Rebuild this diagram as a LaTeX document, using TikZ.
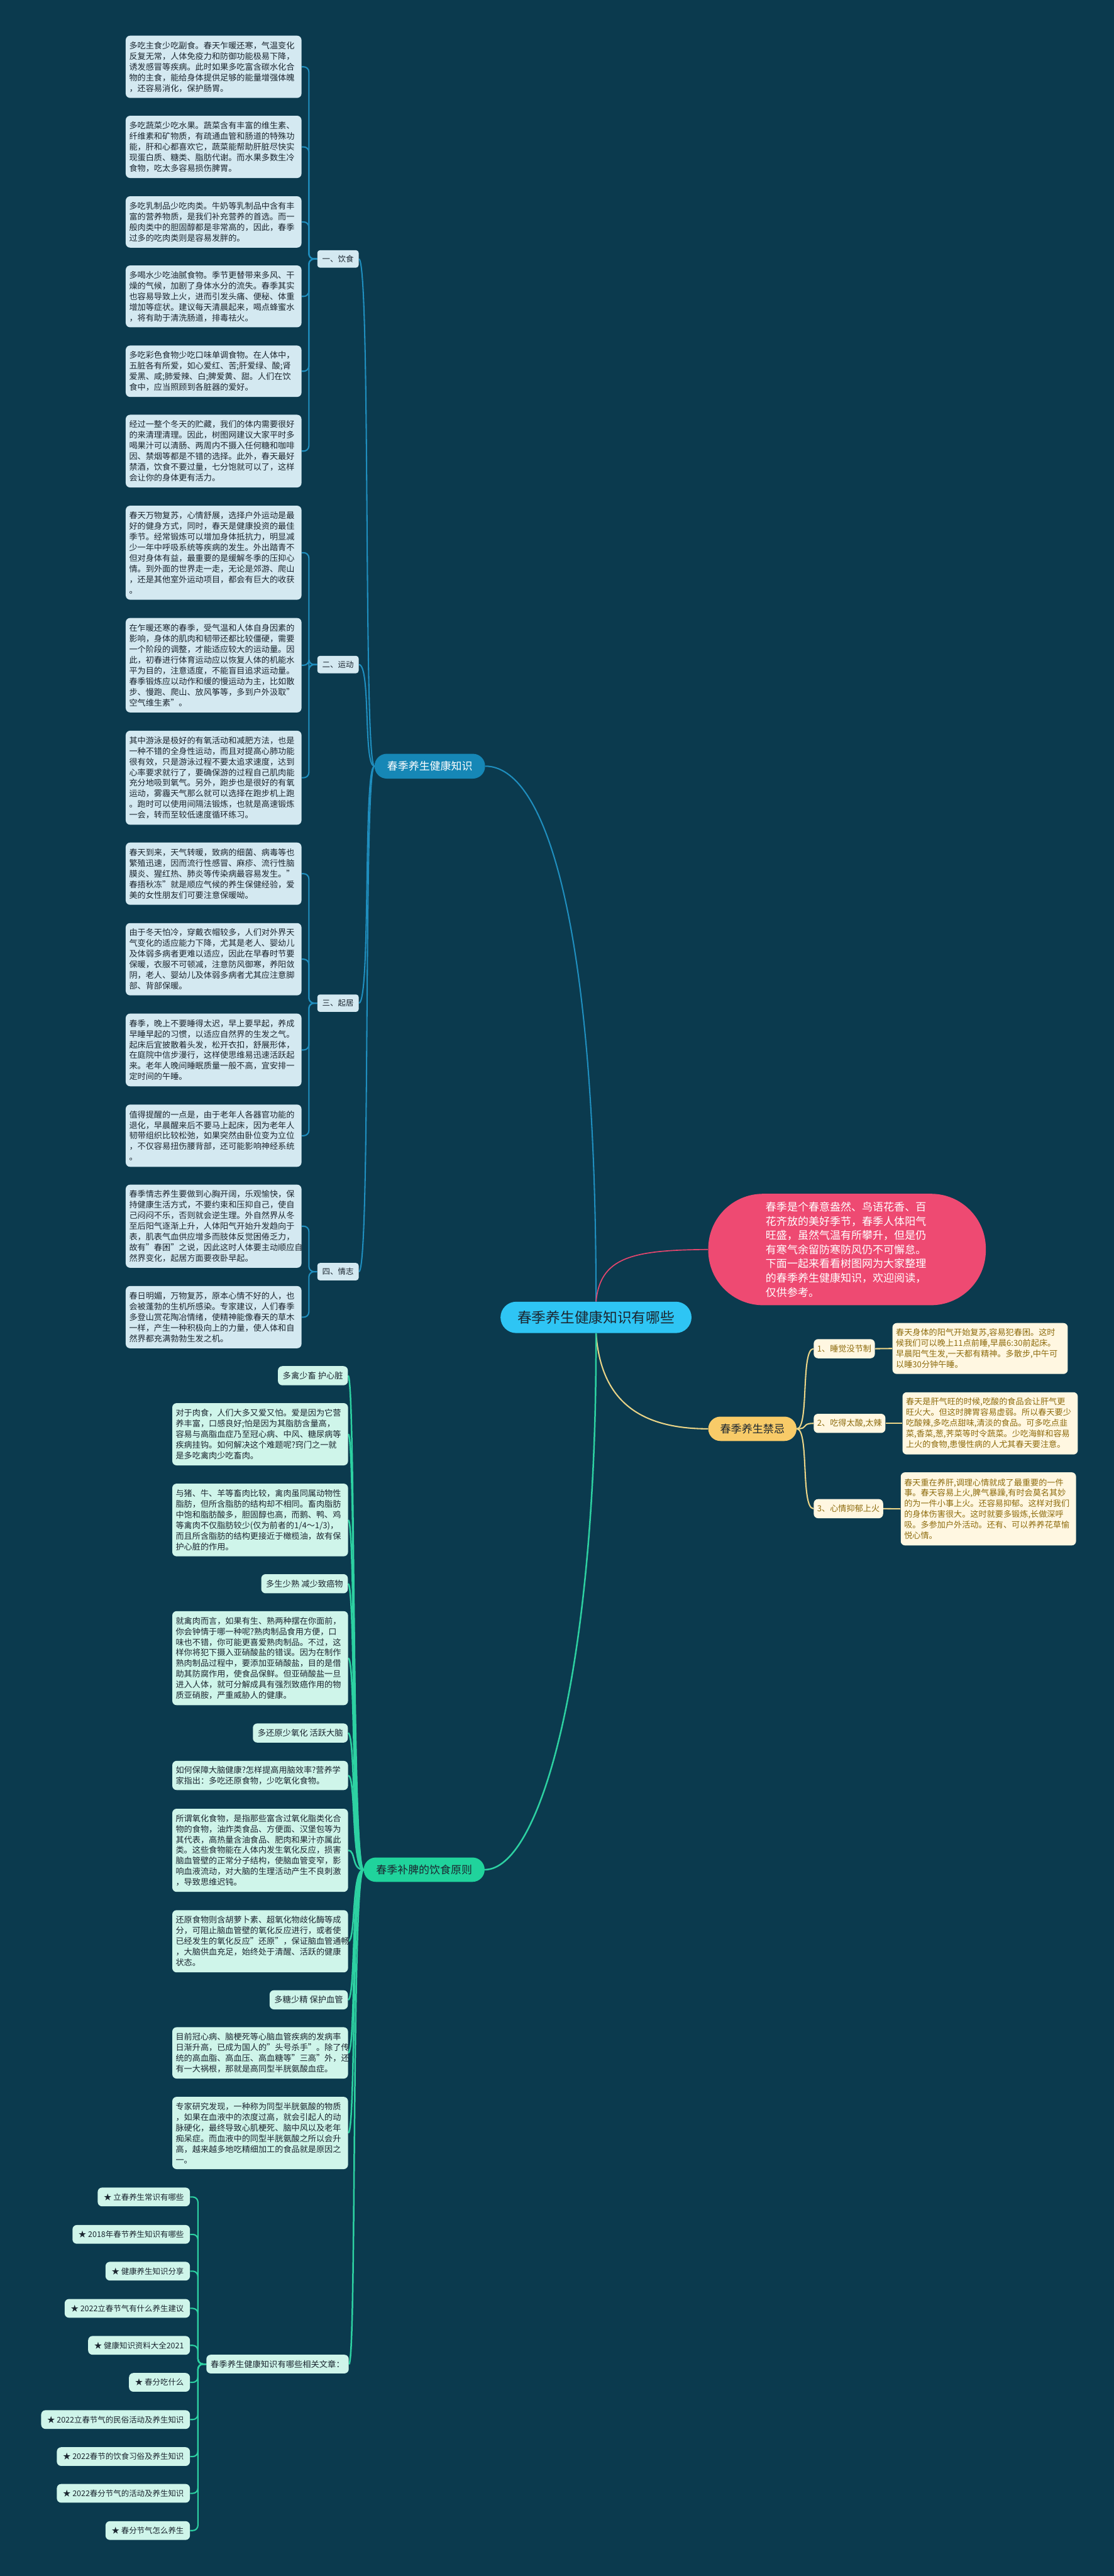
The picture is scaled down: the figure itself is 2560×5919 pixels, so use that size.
\documentclass[tikz,border=0pt]{standalone}
\usepackage{fontspec}
\setmainfont{Noto Sans CJK SC}
\usetikzlibrary{calc}
\lefthyphenmin=62
\definecolor{bgc}{HTML}{0B3A4E}
\definecolor{bluebox}{HTML}{D4E9F1}
\definecolor{blueline}{HTML}{1F8EBE}
\definecolor{bluenode}{HTML}{1687B6}
\definecolor{rootfill}{HTML}{2EC5F4}
\definecolor{darktext}{HTML}{1B2630}
\definecolor{mintbox}{HTML}{CFF5EA}
\definecolor{greenline}{HTML}{2DD1A2}
\definecolor{greennode}{HTML}{20D39C}
\definecolor{pinkfill}{HTML}{EE4A72}
\definecolor{pinkline}{HTML}{E6466E}
\definecolor{yellownode}{HTML}{F8CB68}
\definecolor{creambox}{HTML}{FFF7E1}
\definecolor{goldtext}{HTML}{8E6C0E}
\definecolor{yellowline}{HTML}{EAD487}
\pgfdeclarelayer{lines}
\pgfsetlayers{lines,main}
\tikzset{
  bbox/.style={fill=bluebox, text=darktext, font=\fontsize{9.5pt}{12.25pt}\selectfont, align=left, text width=194pt, inner xsep=4pt, inner ysep=2pt, rounded corners=5pt, minimum height=#1},
  gbox/.style={bbox=#1, fill=mintbox},
  ybox/.style={fill=creambox, text=goldtext, font=\fontsize{9.5pt}{12.2pt}\selectfont, align=left, text width=193.5pt, inner xsep=4pt, inner ysep=2pt, rounded corners=5pt, minimum height=#1, anchor=west},
  lab/.style={fill=bluebox, text=darktext, font=\fontsize{9pt}{10pt}\selectfont, rounded corners=3pt, inner xsep=5pt, inner ysep=0pt, minimum height=20pt, minimum width=47.5pt, anchor=west},
  glab/.style={fill=mintbox, text=darktext, font=\fontsize{9.6pt}{11pt}\selectfont, rounded corners=5pt, inner xsep=5.5pt, inner ysep=0pt, minimum height=22pt, anchor=east},
  ylab/.style={fill=creambox, text=goldtext, font=\fontsize{9.5pt}{11pt}\selectfont, rounded corners=5pt, inner xsep=4pt, inner ysep=0pt, minimum height=22pt, anchor=west},
  artitem/.style={fill=mintbox, text=darktext, font=\fontsize{9pt}{10pt}\selectfont, rounded corners=5pt, inner xsep=7pt, inner ysep=0pt, minimum height=21.5pt, anchor=east},
  cblue/.style={draw=blueline, line width=1.5pt},
  cgreen/.style={draw=greenline, line width=1.8pt},
  cyellow/.style={draw=yellowline, line width=1.5pt},
  cpink/.style={draw=pinkline, line width=1.2pt},
}
\begin{document}
\begin{tikzpicture}[x=0.5pt,y=-0.5pt]
\begin{pgfonlayer}{lines}
\fill[bgc] (0,0) rectangle (2560,5919);
\end{pgfonlayer}
\useasboundingbox (0,0) rectangle (2560,5919);

% ---------- root and main branches ----------
\node[fill=rootfill, text=darktext, font=\fontsize{16.4pt}{18pt}\selectfont, rounded corners=18pt, minimum width=219.5pt, minimum height=36pt, inner sep=0pt] (root) at (1370,3027) {春季养生健康知识有哪些};
\node[fill=bluenode, text=white, font=\fontsize{12.25pt}{14pt}\selectfont, rounded corners=14pt, minimum width=127pt, minimum height=28.5pt, inner sep=0pt] (kn) at (988,1760.5) {春季养生健康知识};
\node[fill=pinkfill, text=white, font=\fontsize{12.3pt}{16.35pt}\selectfont, rounded corners=63pt, minimum width=319pt, minimum height=128pt, text width=187pt, align=left, inner sep=0pt] (pink) at (1947,2871) {春季是个春意盎然、鸟语花香、百\\花齐放的美好季节，春季人体阳气\\旺盛，虽然气温有所攀升，但是仍\\有寒气余留防寒防风仍不可懈怠。\\下面一起来看看树图网为大家整理\\的春季养生健康知识，欢迎阅读，\\仅供参考。};
\node[fill=yellownode, text=darktext, font=\fontsize{12.35pt}{14pt}\selectfont, rounded corners=14pt, minimum width=101.5pt, minimum height=28pt, inner sep=0pt] (jn) at (1729.5,3283) {春季养生禁忌};
\node[fill=greennode, text=darktext, font=\fontsize{12.25pt}{14pt}\selectfont, rounded corners=14pt, minimum width=139pt, minimum height=28pt, inner sep=0pt] (gn) at (975,4296) {春季补脾的饮食原则};
\node[fill=mintbox, text=darktext, font=\fontsize{9.6pt}{11pt}\selectfont, rounded corners=5pt, inner xsep=5pt, inner ysep=0pt, minimum height=21.5pt, anchor=west] (rel) at (474,5432) {春季养生健康知识有哪些相关文章：};

% ---------- branch 1 labels ----------
\node[lab] (l1) at (729,595) {一、饮食};
\node[lab] (l2) at (729,1527) {二、运动};
\node[lab] (l3) at (729,2305) {三、起居};
\node[lab] (l4) at (729,2922) {四、情志};

% ---------- branch 1 boxes ----------
\node[bbox=71.5pt] (b1) at (491,153.5) {多吃主食少吃副食。春天乍暖还寒，气温变化\\反复无常，人体免疫力和防御功能极易下降，\\诱发感冒等疾病。此时如果多吃富含碳水化合\\物的主食，能给身体提供足够的能量增强体魄\\，还容易消化，保护肠胃。};
\node[bbox=71.5pt] (b2) at (491,337.5) {多吃蔬菜少吃水果。蔬菜含有丰富的维生素、\\纤维素和矿物质，有疏通血管和肠道的特殊功\\能，肝和心都喜欢它，蔬菜能帮助肝脏尽快实\\现蛋白质、糖类、脂肪代谢。而水果多数生冷\\食物，吃太多容易损伤脾胃。};
\node[bbox=59pt] (b3) at (491,510) {多吃乳制品少吃肉类。牛奶等乳制品中含有丰\\富的营养物质，是我们补充营养的首选。而一\\般肉类中的胆固醇都是非常高的，因此，春季\\过多的吃肉类则是容易发胖的。};
\node[bbox=71pt] (b4) at (491,681) {多喝水少吃油腻食物。季节更替带来多风、干\\燥的气候，加剧了身体水分的流失。春季其实\\也容易导致上火，进而引发头痛、便秘、体重\\增加等症状。建议每天清晨起来，喝点蜂蜜水\\，将有助于清洗肠道，排毒祛火。};
\node[bbox=59pt] (b5) at (491,853) {多吃彩色食物少吃口味单调食物。在人体中，\\五脏各有所爱，如心爱红、苦;肝爱绿、酸;肾\\爱黑、咸;肺爱辣、白;脾爱黄、甜。人们在饮\\食中，应当照顾到各脏器的爱好。};
\node[bbox=83.5pt] (b6) at (491,1036.5) {经过一整个冬天的贮藏，我们的体内需要很好\\的来清理清理。因此，树图网建议大家平时多\\喝果汁可以清肠、两周内不摄入任何糖和咖啡\\因、禁烟等都是不错的选择。此外，春天最好\\禁酒，饮食不要过量，七分饱就可以了，这样\\会让你的身体更有活力。};
\node[bbox=108pt] (b7) at (491,1270) {春天万物复苏，心情舒展，选择户外运动是最\\好的健身方式，同时，春天是健康投资的最佳\\季节。经常锻炼可以增加身体抵抗力，明显减\\少一年中呼吸系统等疾病的发生。外出踏青不\\但对身体有益，最重要的是缓解冬季的压抑心\\情。到外面的世界走一走，无论是郊游、爬山\\，还是其他室外运动项目，都会有巨大的收获\\。};
\node[bbox=108.5pt] (b8) at (491,1528.5) {在乍暖还寒的春季，受气温和人体自身因素的\\影响，身体的肌肉和韧带还都比较僵硬，需要\\一个阶段的调整，才能适应较大的运动量。因\\此，初春进行体育运动应以恢复人体的机能水\\平为目的，注意适度，不能盲目追求运动量。\\春季锻炼应以动作和缓的慢运动为主，比如散\\步、慢跑、爬山、放风筝等，多到户外汲取"\\空气维生素"。};
\node[bbox=108pt] (b9) at (491,1787) {其中游泳是极好的有氧活动和减肥方法，也是\\一种不错的全身性运动，而且对提高心肺功能\\很有效，只是游泳过程不要太追求速度，达到\\心率要求就行了，要确保游的过程自己肌肉能\\充分地吸到氧气。另外，跑步也是很好的有氧\\运动，雾霾天气那么就可以选择在跑步机上跑\\。跑时可以使用间隔法锻炼，也就是高速锻炼\\一会，转而至较低速度循环练习。};
\node[bbox=71.5pt] (b10) at (491,2007.5) {春天到来，天气转暖，致病的细菌、病毒等也\\繁殖迅速，因而流行性感冒、麻疹、流行性脑\\膜炎、猩红热、肺炎等传染病最容易发生。"\\春捂秋冻"就是顺应气候的养生保健经验，爱\\美的女性朋友们可要注意保暖呦。};
\node[bbox=83pt] (b11) at (491,2204) {由于冬天怕冷，穿戴衣帽较多，人们对外界天\\气变化的适应能力下降，尤其是老人、婴幼儿\\及体弱多病者更难以适应，因此在早春时节要\\保暖，衣服不可顿减，注意防风御寒，养阳敛\\阴，老人、婴幼儿及体弱多病者尤其应注意脚\\部、背部保暖。};
\node[bbox=83.5pt] (b12) at (491,2412.5) {春季，晚上不要睡得太迟，早上要早起，养成\\早睡早起的习惯，以适应自然界的生发之气。\\起床后宜披散着头发，松开衣扣，舒展形体，\\在庭院中信步漫行，这样使思维易迅速活跃起\\来。老年人晚间睡眠质量一般不高，宜安排一\\定时间的午睡。};
\node[bbox=71.5pt] (b13) at (491,2609.5) {值得提醒的一点是，由于老年人各器官功能的\\退化，早晨醒来后不要马上起床，因为老年人\\韧带组织比较松弛，如果突然由卧位变为立位\\，不仅容易扭伤腰背部，还可能影响神经系统\\。};
\node[bbox=95.5pt] (b14) at (491,2817.5) {春季情志养生要做到心胸开阔，乐观愉快，保\\持健康生活方式，不要约束和压抑自己，使自\\己闷闷不乐，否则就会逆生理。外自然界从冬\\至后阳气逐渐上升，人体阳气开始升发趋向于\\表，肌表气血供应增多而肢体反觉困倦乏力，\\故有"春困"之说，因此这时人体要主动顺应自\\然界变化，起居方面要夜卧早起。};
\node[bbox=71.5pt] (b15) at (491,3026.5) {春日明媚，万物复苏，原本心情不好的人，也\\会被蓬勃的生机所感染。专家建议，人们春季\\多登山赏花陶冶情绪，使精神能像春天的草木\\一样，产生一种积极向上的力量，使人体和自\\然界都充满勃勃生发之机。};

% ---------- yellow branch ----------
\node[ylab] (y1) at (1870,3099) {1、睡觉没节制};
\node[ylab] (y2) at (1870,3270.5) {2、吃得太酸,太辣};
\node[ylab] (y3) at (1870,3466.5) {3、心情抑郁上火};
\node[ybox=58.5pt] (t1) at (2051,3098.5) {春天身体的阳气开始复苏,容易犯春困。这时\\候我们可以晚上11点前睡,早晨6:30前起床。\\早晨阳气生发,一天都有精神。多散步,中午可\\以睡30分钟午睡。};
\node[ybox=71.5pt] (t2) at (2074,3270.5) {春天是肝气旺的时候,吃酸的食品会让肝气更\\旺火大。但这时脾胃容易虚弱。所以春天要少\\吃酸辣,多吃点甜味,清淡的食品。可多吃点韭\\菜,香菜,葱,荠菜等时令蔬菜。少吃海鲜和容易\\上火的食物,患慢性病的人尤其春天要注意。};
\node[ybox=84pt] (t3) at (2070,3467) {春天重在养肝,调理心情就成了最重要的一件\\事。春天容易上火,脾气暴躁,有时会莫名其妙\\的为一件小事上火。还容易抑郁。这样对我们\\的身体伤害很大。这时就要多锻炼,长做深呼\\吸。多参加户外活动。还有、可以养养花草愉\\悦心情。};

% ---------- green branch ----------
\node[glab] (gl1) at (800,3161) {多禽少畜 护心脏};
\node[gbox=71.5pt] (g1) at (598,3295.5) {对于肉食，人们大多又爱又怕。爱是因为它营\\养丰富，口感良好;怕是因为其脂肪含量高，\\容易与高脂血症乃至冠心病、中风、糖尿病等\\疾病挂钩。如何解决这个难题呢?窍门之一就\\是多吃禽肉少吃畜肉。};
\node[gbox=83.5pt] (g2) at (598,3492.5) {与猪、牛、羊等畜肉比较，禽肉虽同属动物性\\脂肪，但所含脂肪的结构却不相同。畜肉脂肪\\中饱和脂肪酸多，胆固醇也高，而鹅、鸭、鸡\\等禽肉不仅脂肪较少(仅为前者的1/4～1/3)，\\而且所含脂肪的结构更接近于橄榄油，故有保\\护心脏的作用。};
\node[glab] (gl2) at (800,3639) {多生少熟 减少致癌物};
\node[gbox=108pt] (g3) at (598,3810) {就禽肉而言，如果有生、熟两种摆在你面前，\\你会钟情于哪一种呢?熟肉制品食用方便，口\\味也不错，你可能更喜爱熟肉制品。不过，这\\样你将犯下摄入亚硝酸盐的错误。因为在制作\\熟肉制品过程中，要添加亚硝酸盐，目的是借\\助其防腐作用，使食品保鲜。但亚硝酸盐一旦\\进入人体，就可分解成具有强烈致癌作用的物\\质亚硝胺，严重威胁人的健康。};
\node[glab] (gl3) at (800,3982) {多还原少氧化 活跃大脑};
\node[gbox=33.5pt] (g4) at (598,4079.5) {如何保障大脑健康?怎样提高用脑效率?营养学\\家指出：多吃还原食物，少吃氧化食物。};
\node[gbox=95.5pt] (g5) at (598,4251.5) {所谓氧化食物，是指那些富含过氧化脂类化合\\物的食物，油炸类食品、方便面、汉堡包等为\\其代表，高热量含油食品、肥肉和果汁亦属此\\类。这些食物能在人体内发生氧化反应，损害\\脑血管壁的正常分子结构，使脑血管变窄，影\\响血液流动，对大脑的生理活动产生不良刺激\\，导致思维迟钝。};
\node[gbox=71.5pt] (g6) at (598,4460.5) {还原食物则含胡萝卜素、超氧化物歧化酶等成\\分，可阻止脑血管壁的氧化反应进行，或者使\\已经发生的氧化反应"还原"，保证脑血管通畅\\，大脑供血充足，始终处于清醒、活跃的健康\\状态。};
\node[glab] (gl4) at (800,4595) {多糖少精 保护血管};
\node[gbox=59pt] (g7) at (598,4717) {目前冠心病、脑梗死等心脑血管疾病的发病率\\日渐升高，已成为国人的"头号杀手"。除了传\\统的高血脂、高血压、高血糖等"三高"外，还\\有一大祸根，那就是高同型半胱氨酸血症。};
\node[gbox=83pt] (g8) at (598,4901) {专家研究发现，一种称为同型半胱氨酸的物质\\，如果在血液中的浓度过高，就会引起人的动\\脉硬化，最终导致心肌梗死、脑中风以及老年\\痴呆症。而血液中的同型半胱氨酸之所以会升\\高，越来越多地吃精细加工的食品就是原因之\\一。};

% ---------- related articles ----------
\node[artitem] (a1) at (437,5048) {★ 立春养生常识有哪些};
\node[artitem] (a2) at (437,5134) {★ 2018年春节养生知识有哪些};
\node[artitem] (a3) at (437,5218.5) {★ 健康养生知识分享};
\node[artitem] (a4) at (437,5304) {★ 2022立春节气有什么养生建议};
\node[artitem] (a5) at (437,5389) {★ 健康知识资料大全2021};
\node[artitem] (a6) at (437,5474) {★ 春分吃什么};
\node[artitem] (a7) at (437,5559.5) {★ 2022立春节气的民俗活动及养生知识};
\node[artitem] (a8) at (437,5644.5) {★ 2022春节的饮食习俗及养生知识};
\node[artitem] (a9) at (437,5729) {★ 2022春分节气的活动及养生知识};
\node[artitem] (a10) at (437,5814.5) {★ 春分节气怎么养生};

% ---------- connectors ----------
\coordinate (j1) at (710,595);
\coordinate (j2) at (710,1527);
\coordinate (j3) at (710,2305);
\coordinate (j4) at (710,2922);
\coordinate (j5) at (455,5432);
\begin{pgfonlayer}{lines}
\draw[cblue] (kn.east) .. controls (1250,1760) and (1370,2100) .. (root.north);
\draw[cpink] (root.north) .. controls (1380,2890) and (1450,2872) .. (pink.west);
\draw[cyellow] (root.south) .. controls (1380,3200) and (1450,3283) .. (jn.west);
\draw[cgreen] (root.south) .. controls (1372,3850) and (1240,4296) .. (gn.east);
\foreach \l in {l1,l2,l3,l4}
  \draw[cblue] (kn.west) .. controls ++(-26,0) and ($(\l.east)+(28,0)$) .. (\l.east);
\foreach \b in {b1,b2,b3,b4,b5,b6}
  \draw[cblue, rounded corners=6pt] (\b.east) -| (j1) -- (l1.west);
\foreach \b in {b7,b8,b9}
  \draw[cblue, rounded corners=6pt] (\b.east) -| (j2) -- (l2.west);
\foreach \b in {b10,b11,b12,b13}
  \draw[cblue, rounded corners=6pt] (\b.east) -| (j3) -- (l3.west);
\foreach \b in {b14,b15}
  \draw[cblue, rounded corners=6pt] (\b.east) -| (j4) -- (l4.west);
\foreach \y in {y1,y2,y3}
  \draw[cyellow] (jn.east) .. controls ++(29,0) and ($(\y.west)+(-30,0)$) .. (\y.west);
\draw[cyellow] (y1.east) -- (t1.west);
\draw[cyellow] (y2.east) -- (t2.west);
\draw[cyellow] (y3.east) -- (t3.west);
\foreach \g in {gl1,g1,g2,gl2,g3,gl3,g4,g5,g6,gl4,g7,g8,rel}
  \draw[cgreen] (gn.west) .. controls ++(-28,0) and ($(\g.east)+(18,0)$) .. (\g.east);
\foreach \i in {1,...,10}
  \draw[cgreen, line width=1.5pt, rounded corners=6pt] (a\i.east) -| (j5) -- (rel.west);
\end{pgfonlayer}
\end{tikzpicture}
\end{document}
